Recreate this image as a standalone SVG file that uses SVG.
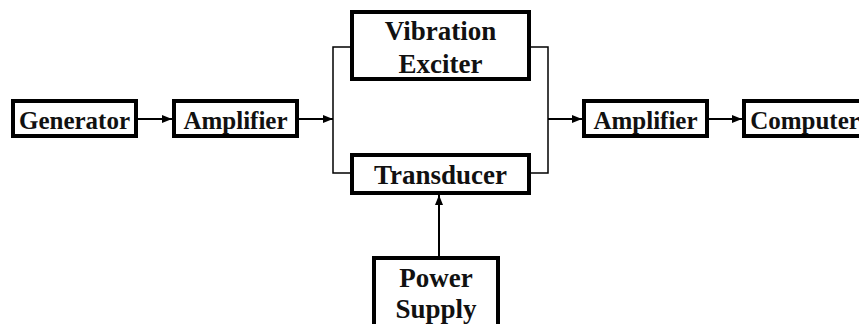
<svg xmlns="http://www.w3.org/2000/svg" width="859" height="324" viewBox="0 0 859 324">
<style>
.box{fill:#fff;stroke:#000;stroke-width:4}
.t{font-family:"Liberation Serif","Times New Roman",serif;font-weight:bold;fill:#111;text-anchor:middle}
.s{font-size:25px}
.l{font-size:27px}
.c{fill:none;stroke:#000;stroke-width:2}
.w{fill:none;stroke:#000;stroke-width:1.5}
</style>
<defs>
<marker id="ah" markerWidth="10" markerHeight="10" refX="10" refY="5" orient="auto" markerUnits="userSpaceOnUse">
<path d="M0,1 L10,5 L0,9 Z" fill="#000"/>
</marker>
</defs>
<g id="connectors">
<line class="c" x1="138" y1="119" x2="172" y2="119" marker-end="url(#ah)"/>
<line class="c" x1="299" y1="119" x2="333" y2="119" marker-end="url(#ah)"/>
<polyline class="w" points="350,47 333,47 333,173 350,173"/>
<polyline class="w" points="531,47 548,47 548,173 531,173"/>
<line class="c" x1="548" y1="119" x2="582" y2="119" marker-end="url(#ah)"/>
<line class="c" x1="709" y1="119" x2="742" y2="119" marker-end="url(#ah)"/>
<line class="c" x1="439" y1="256" x2="439" y2="195" marker-end="url(#ah)"/>
</g>
<g id="generator">
<rect class="box" x="13" y="101" width="123" height="35"/>
<text class="t s" x="74.5" y="129">Generator</text>
</g>
<g id="amplifier1">
<rect class="box" x="174" y="101" width="123" height="35"/>
<text class="t s" x="235.5" y="129">Amplifier</text>
</g>
<g id="vibration-exciter">
<rect class="box" x="352" y="12" width="177" height="67"/>
<text class="t l" x="440.5" y="40">Vibration</text>
<text class="t l" x="440.5" y="73">Exciter</text>
</g>
<g id="transducer">
<rect class="box" x="352" y="155" width="177" height="38"/>
<text class="t l" x="440.5" y="184">Transducer</text>
</g>
<g id="amplifier2">
<rect class="box" x="584" y="101" width="123" height="35"/>
<text class="t s" x="645.5" y="129">Amplifier</text>
</g>
<g id="computer">
<rect class="box" x="744" y="101" width="125" height="35"/>
<text class="t s" x="805" y="129">Computer</text>
</g>
<g id="power-supply">
<rect class="box" x="374" y="258" width="124" height="80"/>
<text class="t l" x="436" y="287">Power</text>
<text class="t l" x="436" y="318">Supply</text>
</g>
</svg>
